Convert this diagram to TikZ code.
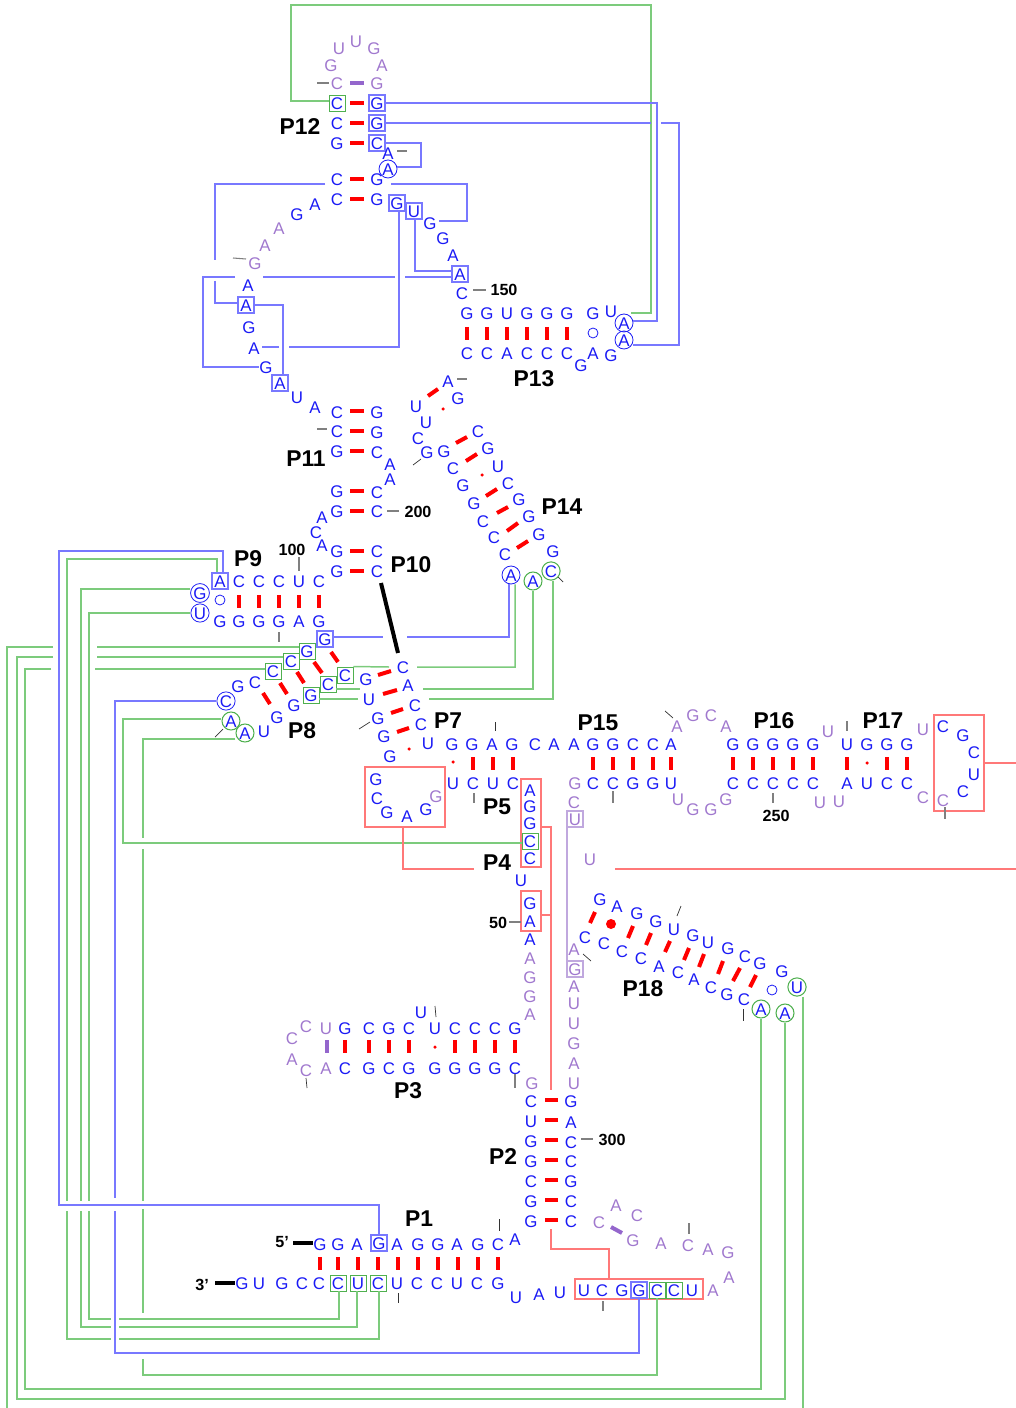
\documentclass[tikz,border=0pt]{standalone}
\usepackage{fontspec}
\setmainfont{Liberation Sans}
\usepackage{xcolor}
\definecolor{ntblue}{HTML}{1A1AF5}
\definecolor{ntpurple}{HTML}{A078CE}
\definecolor{linkblue}{HTML}{7878FF}
\definecolor{linkgreen}{HTML}{7CCB7C}
\definecolor{linkred}{HTML}{FF7878}
\definecolor{linkpurple}{HTML}{C0A8DE}
\definecolor{edgegreen}{HTML}{4FB04F}
\definecolor{pairpurple}{HTML}{9466CC}
\tikzset{
	nt/.style={inner sep=0pt,text=ntblue,text height=7.7pt,text depth=0pt,font=\fontsize{9.6}{10}\selectfont},
	ntp/.style={nt,text=ntpurple},
	bluebox/.style={nt,draw=linkblue,line width=0.6pt,minimum size=0.32cm},
	greenbox/.style={nt,draw=edgegreen,line width=0.55pt,minimum size=0.32cm},
	purplebox/.style={ntp,draw=linkpurple,line width=0.6pt,minimum size=0.32cm},
	bluecirc/.style={nt,circle,draw=ntblue,line width=0.45pt,minimum size=0.36cm},
	greencirc/.style={nt,circle,draw=edgegreen,line width=0.6pt,minimum size=0.36cm},
	opencirc/.style={circle,draw=ntblue,line width=0.45pt,inner sep=0pt,minimum size=0.2cm},
	smalldot/.style={circle,fill=red,inner sep=0pt,minimum size=0.07cm},
	bigdot/.style={circle,fill=red,inner sep=0pt,minimum size=0.2cm},
	redbox/.style={draw=linkred,line width=0.85pt,inner sep=0pt},
	helix/.style={font=\fontsize{13}{15}\selectfont\bfseries,inner sep=0pt},
	num/.style={font=\fontsize{9.2}{10}\selectfont\bfseries,inner sep=0pt},
	pairline/.style={red,line width=0.08cm},
	weakpair/.style={pairpurple,line width=0.08cm},
	tick/.style={gray,line width=0.6pt},
	darktick/.style={black!80,line width=0.4pt},
	bluelink/.style={linkblue,line width=0.85pt},
	greenlink/.style={linkgreen,line width=0.85pt},
	redlink/.style={linkred,line width=0.85pt},
	purplelink/.style={linkpurple,line width=0.85pt},
	endline/.style={black,line width=0.08cm},
}
\begin{document}
\begin{tikzpicture}[x=0.02cm,y=-0.02cm]
\useasboundingbox (0,0) rectangle (1016,1408);
\node[redbox,minimum width=1.6cm,minimum height=1.2cm] (loopbox) at (405,797) {};
\node[redbox,minimum width=0.4cm,minimum height=1.76cm] (stackbox) at (531,823) {};
\node[redbox,minimum width=0.4cm,minimum height=0.8cm] (lowbox) at (531,911) {};
\node[redbox,minimum width=1cm,minimum height=1.92cm] (endbox) at (959,763) {};
\node[redbox,minimum width=2.56cm,minimum height=0.4cm] (sidebox) at (639,1289) {};
\foreach \x/\y/\t in {377/103/G,377/123/G,377/143/C,397/203/G,414/211/U,460/274/A,246/305/A,280/383/A,220/581/A,325/639/G,379/1243/G,639/1290/G} {\node[bluebox] (n\x-\y) at (\x,\y) {\t};}
\foreach \x/\y/\t in {337/103/C,307/651/G,291/661/C,273/671/C,311/695/G,328/684/C,345/675/C,530/841/C,338/1283/C,358/1283/U,378/1283/C,657/1290/C,674/1290/C} {\node[greenbox] (n\x-\y) at (\x,\y) {\t};}
\foreach \x/\y/\t in {575/819/U,575/969/G} {\node[purplebox] (n\x-\y) at (\x,\y) {\t};}
\foreach \x/\y/\t in {388/169/A,624/323/A,624/340/A,511/575/A,200/593/G,200/613/U,226/701/C} {\node[bluecirc] (n\x-\y) at (\x,\y) {\t};}
\foreach \x/\y/\t in {533/581/A,551/571/C,231/721/A,245/733/A,797/987/U,761/1009/A,785/1013/A} {\node[greencirc] (n\x-\y) at (\x,\y) {\t};}
\foreach \x/\y/\t in {337/123/C,337/143/G,388/153/A,337/179/C,377/179/G,337/199/C,377/199/G,430/223/G,443/238/G,453/255/A,462/293/C,315/204/A,297/214/G,248/285/A,249/327/G,254/348/A,266/367/G,297/397/U,315/407/A,611/311/U,581/365/G,593/353/A,611/355/G} {\node[nt] (n\x-\y) at (\x,\y) {\t};}
\foreach \x/\y/\t in {448/381/A,458/398/G,416/406/U,426/422/U,418/438/C,427/452/G,444/451/G,478/431/C,453/468/C,488/448/G,463/485/G,498/466/U,508/483/C,474/503/G,519/499/G,483/521/C,529/516/G,494/537/C,539/534/G,505/554/C,553/551/G} {\node[nt] (n\x-\y) at (\x,\y) {\t};}
\foreach \x/\y/\t in {337/412/C,377/412/G,337/431/C,377/432/G,337/451/G,377/452/C,390/464/A,390/479/A,337/491/G,377/492/C,337/511/G,377/511/C,322/517/A,316/532/C,322/545/A,337/551/G,377/551/C,337/571/G,377/571/C} {\node[nt] (n\x-\y) at (\x,\y) {\t};}
\foreach \x/\y/\t in {255/682/C,238/686/G,264/731/U,277/717/G,294/705/G,403/667/C,366/679/G,408/685/A,369/699/U,415/705/C,378/718/G,421/724/C,384/736/G,390/756/G,428/743/U} {\node[nt] (n\x-\y) at (\x,\y) {\t};}
\foreach \x/\y/\t in {376/779/G,377/798/C,387/812/G,407/816/A,426/809/G,530/790/A,530/806/G,530/823/G,530/858/C,521/880/U,530/903/G,530/921/A,530/939/A} {\node[nt] (n\x-\y) at (\x,\y) {\t};}
\foreach \x/\y/\t in {943/726/C,963/735/G,974/752/C,974/774/U,963/791/C} {\node[nt] (n\x-\y) at (\x,\y) {\t};}
\foreach \x/\y/\t in {600/899/G,617/906/A,637/913/G,656/921/G,674/929/U,693/935/G,708/942/U,728/948/G,745/956/C,760/963/G,782/971/G,585/937/C,604/943/C,622/951/C,641/958/C,659/966/A,678/972/C,694/979/A,711/987/C,727/994/G,744/999/C} {\node[nt] (n\x-\y) at (\x,\y) {\t};}
\foreach \x/\y/\t in {421/1012/U,531/1101/C,571/1101/G,531/1121/U,571/1122/A,531/1141/G,571/1142/C,531/1161/G,571/1161/C,531/1181/C,571/1181/G,531/1201/G,571/1201/C,531/1221/G,571/1221/C,515/1239/A,516/1297/U,539/1294/A,560/1292/U} {\node[nt] (n\x-\y) at (\x,\y) {\t};}
\foreach \x/\t in {467/G,487/G,507/U,527/G,547/G,567/G,593/G} {\node[nt] (n\x-313) at (\x,313) {\t};}
\foreach \x/\t in {467/C,487/C,507/A,527/C,547/C,567/C} {\node[nt] (n\x-353) at (\x,353) {\t};}
\foreach \x/\t in {239/C,259/C,279/C,299/U,319/C} {\node[nt] (n\x-581) at (\x,581) {\t};}
\foreach \x/\t in {220/G,239/G,259/G,279/G,299/A,319/G} {\node[nt] (n\x-621) at (\x,621) {\t};}
\foreach \x/\t in {452/G,472/G,492/A,512/G,535/C,554/A,574/A,593/G,613/G,633/C,653/C,671/A,733/G,753/G,773/G,793/G,813/G,847/U,867/G,887/G,907/G} {\node[nt] (n\x-744) at (\x,744) {\t};}
\foreach \x/\t in {453/U,473/C,493/U,513/C,593/C,613/C,633/G,653/G,671/U,733/C,753/C,773/C,793/C,813/C,847/A,867/U,887/C,907/C} {\node[nt] (n\x-783) at (\x,783) {\t};}
\foreach \x/\t in {345/G,369/C,389/G,409/C,435/U,455/C,475/C,495/C,515/G} {\node[nt] (n\x-1028) at (\x,1028) {\t};}
\foreach \x/\t in {345/C,369/G,389/C,409/G,435/G,455/G,475/G,495/G,515/C} {\node[nt] (n\x-1068) at (\x,1068) {\t};}
\foreach \x/\t in {320/G,338/G,357/A,397/A,418/G,438/G,457/A,478/G,498/C} {\node[nt] (n\x-1244) at (\x,1244) {\t};}
\foreach \x/\t in {242/G,259/U,282/G,302/C,319/C,397/U,417/C,437/C,457/U,477/C,498/G} {\node[nt] (n\x-1283) at (\x,1283) {\t};}
\foreach \x/\t in {584/U,602/C,622/G,692/U} {\node[nt] (n\x-1290) at (\x,1290) {\t};}
\foreach \x/\y/\t in {339/48/U,356/41/U,374/48/G,331/65/G,382/65/A,337/83/C,377/83/G,279/228/A,265/245/A,255/263/G,436/796/G,575/783/G,574/802/C,590/859/U,677/726/A,693/715/G,711/715/C,726/726/A,678/799/U,693/809/G,711/809/G,726/799/G,828/731/U,820/802/U,839/801/U,923/729/U,923/797/C,943/800/C} {\node[ntp] (n\x-\y) at (\x,\y) {\t};}
\foreach \x/\y/\t in {574/949/A,574/986/A,574/1003/U,574/1023/U,574/1043/G,574/1063/A,574/1083/U,530/958/A,530/977/G,530/996/G,530/1014/A,306/1026/C,292/1038/C,292/1059/A,306/1070/C,326/1028/U,326/1068/A,532/1083/G,599/1222/C,616/1205/A,637/1215/C,633/1240/G,661/1243/A,688/1245/C,708/1249/A,728/1252/G,729/1277/A,713/1290/A} {\node[ntp] (n\x-\y) at (\x,\y) {\t};}
\foreach \x/\y in {593/333,220/600,772/990} {\node[opencirc] (o\x-\y) at (\x,\y) {};}
\foreach \x/\y in {443/409,482/475,409/749,453/762,867/763,435/1047} {\node[smalldot] (d\x-\y) at (\x,\y) {};}
\node[bigdot] (d611-924) at (611,924) {};
\foreach \y in {103,123,143,179,199,411,431,451,491,511,551,571} {\draw[pairline] (350,\y) --+ (14,0);}
\draw[weakpair] (350,83) --+ (14,0);
\foreach \x in {467,487,507,527,547,567} {\draw[pairline] (\x,327) --+ (0,13);}
\foreach \x in {239,259,279,299,319} {\draw[pairline] (\x,595) --+ (0,13);}
\foreach \x in {473,493,513,593,613,633,653,671,733,753,773,793,813,847,887,907} {\draw[pairline] (\x,757) --+ (0,13);}
\foreach \x in {345,369,389,409,455,475,495,515} {\draw[pairline] (\x,1040) --+ (0,13);}
\draw[weakpair] (327,1040) --+ (0,13);
\foreach \y in {1100,1120,1140,1160,1180,1200,1220} {\draw[pairline] (545,\y) --+ (13,0);}
\foreach \x in {320,338,358,378,398,418,438,458,478,498} {\draw[pairline] (\x,1257) --+ (0,13);}
\foreach \a/\b/\c/\d in {428/396/438/389,456/443/467/437,466/461/477/454,486/496/497/489,497/513/508/507,507/531/518/523,517/548/528/541,331/652/338/662,314/662/322/673,297/672/304/683,280/683/287/694,263/693/270/704,378/675/391/671,383/694/397/690,391/713/403/709,397/732/409/728,595/912/590/923,633/926/628/938,651/933/646/945,670/941/665/952,689/948/684/960,704/954/699/967,723/961/718/974,740/968/733/981,756/975/750/987} {\draw[pairline] (\a,\b) -- (\c,\d);}
\draw[weakpair] (611,1227) -- (622,1233);
\foreach \a/\b/\c/\d in {317/83/329/83,397/151/407/151,473/290/486/290,233/258/246/259,457/379/467/379,317/429/327/429,387/511/399/511,299/557/299/571,279/632/279/642,474/793/474/803,613/791/613/803,773/793/773/803,847/721/847/731,945/807/945/819,509/922/521/922,515/1074/515/1088,581/1139/593/1139,603/1301/603/1311,689/1223/689/1234} {\draw[tick] (\a,\b) -- (\c,\d);}
\foreach \a/\b/\c/\d in {413/465/421/459,558/577/563/582,215/737/223/729,359/729/370/722,495/722/495/731,665/711/673/718,583/954/591/961,681/906/677/916,743/1009/743/1021,435/1006/436/1017,306/1078/307/1088,499/1219/499/1231,398/1293/398/1303} {\draw[darktick] (\a,\b) -- (\c,\d);}
\draw[line width=0.08cm] (381,583) -- (398,653);
\draw[endline] (293,1243) -- (n320-1244.west |- 293,1243);
\draw[endline] (215,1283) -- (n242-1283.west |- 215,1283);
% long range contacts
\draw[greenlink] (n337-103.west |- 291,101) -- (291,101) -- (291,5) -- (651,5) -- (651,313) -- (n624-323.45 |- 651,313);
\draw[bluelink] (n377-103.east) -- (657,103) -- (657,321) -- (n624-323.east |- 657,321);
\draw[bluelink] (n377-123.east) -- (651,123) (661,123) -- (679,123) -- (679,345) -- (n624-340.east |- 679,345);
\draw[bluelink] (n377-143.east) -- (421,143) -- (421,167) -- (n388-169.east |- 421,167);
\draw[bluelink] ([shift={(14,5)}]n377-179.center) -- (467,184) -- (467,221) -- ([shift={(9,-2)}]n430-223.center);
\draw[bluelink] ([shift={(-12,5)}]n337-179.center) -- (215,184) -- (215,260) (215,281) -- (215,303) -- (n246-305.west |- 215,303);
\draw[bluelink] (n246-305.east) -- (283,305) -- (n280-383.north -| 283,305);
\draw[bluelink] (n460-274.west |- 453,277) -- (405,277) (395,277) -- (263,277) (235,277) -- (203,277) -- (203,367) -- (n266-367.west |- 203,367);
\draw[bluelink] (n397-203.south -| 399,212) -- (399,347) -- (289,347) (279,347) -- ([shift={(8,0)}]n254-348.center |- 279,347);
\draw[bluelink] (n414-211.south -| 415,218) -- (415,271) -- (n460-274.west |- 415,271);
\draw[bluelink] (n325-639.east |- 333,637) -- (383,637) (407,637) -- (509,637) -- (n511-575.south -| 509,583);
\draw[greenlink] (n511-575.south -| 515,583) -- (515,667) -- (417,667) (389,667) -- (n345-675.north east);
\draw[greenlink] (n533-581.south) -- (533,689) -- (423,689) (360,689) -- (n328-684.east |- 360,689);
\draw[greenlink] (n551-571.south -| 553,571) -- (553,699) -- (429,699) (358,699) -- (n311-695.east |- 358,699);
\draw[greenlink] (n307-651.west |- 299,647) -- (97,647) (53,647) -- (7,647) -- (7,1408);
\draw[greenlink] (n291-661.west |- 283,657) -- (97,657) (53,657) -- (17,657) -- (17,1399) -- (785,1399) -- (n785-1013.south);
\draw[greenlink] (n273-671.west |- 265,669) -- (95,669) (51,669) -- (25,669) -- (25,1389) -- (761,1389) -- (n761-1009.south);
\draw[greenlink] (n797-987.south -| 803,987) -- (803,1408);
\draw[bluelink] (n220-581.north -| 223,551) -- (223,551) -- (59,551) -- (59,1205) -- (379,1205) -- (n379-1243.north);
\draw[greenlink] (n220-581.north -| 217,559) -- (217,559) -- (67,559) -- (67,1201) (67,1211) -- (67,1339) -- (111,1339) (119,1339) -- (379,1339) -- (n378-1283.south -| 379,1339);
\draw[greenlink] (n200-593.west |- 190,589) -- (81,589) -- (81,1201) (81,1211) -- (81,1327) -- (111,1327) (119,1327) -- (357,1327) -- (n358-1283.south -| 357,1327);
\draw[greenlink] (n200-613.west) -- (89,613) -- (89,1201) (89,1211) -- (89,1319) -- (111,1319) (119,1319) -- (339,1319) -- (n338-1283.south -| 339,1319);
\draw[bluelink] (n226-701.west) -- (115,701) -- (115,1198) (115,1211) -- (115,1353) -- (639,1353) -- (n639-1290.south);
\draw[greenlink] (n231-721.west |- 222,719) -- (123,719) -- (123,843) -- (n530-841.west |- 523,843);
\draw[greenlink] (n245-733.west |- 237,739) -- (143,739) -- (143,838) (143,849) -- (143,1201) (143,1209) -- (143,1313) (143,1359) -- (143,1375) -- (657,1375) -- (n657-1290.south);
\draw[redlink] (loopbox.south -| 403,827) -- (403,869) -- (474,869) (615,869) -- (1016,869);
\draw[redlink] (stackbox.east |- 541,827) -- (551,827) -- (551,1090);
\draw[redlink] (lowbox.east |- 541,915) -- (551,915);
\draw[redlink] (endbox.east) -- (1016,763);
\draw[redlink] (551,1229) -- (551,1249) -- (609,1249) -- (sidebox.north -| 609,1249);
\draw[purplelink] (n575-819.south -| 567,819) -- (n575-969.north -| 567,969);
\node[helix] (P12) at (300,127) {P12};
\node[helix] (P13) at (534,379) {P13};
\node[helix] (P11) at (306,459) {P11};
\node[helix] (P14) at (562,507) {P14};
\node[helix] (P10) at (411,565) {P10};
\node[helix] (P9) at (248,559) {P9};
\node[helix] (P8) at (302,731) {P8};
\node[helix] (P7) at (448,721) {P7};
\node[helix] (P15) at (598,723) {P15};
\node[helix] (P16) at (774,721) {P16};
\node[helix] (P17) at (883,721) {P17};
\node[helix] (P5) at (497,807) {P5};
\node[helix] (P4) at (497,863) {P4};
\node[helix] (P18) at (643,989) {P18};
\node[helix] (P3) at (408,1091) {P3};
\node[helix] (P2) at (503,1157) {P2};
\node[helix] (P1) at (419,1219) {P1};
\node[num] (n150) at (504,290) {150};
\node[num] (n200) at (418,512) {200};
\node[num] (n100) at (292,550) {100};
\node[num] (n50) at (498,923) {50};
\node[num] (n250) at (776,816) {250};
\node[num] (n300) at (612,1140) {300};
\node[num] (five) at (282,1242) {5’};
\node[num] (three) at (202,1285) {3’};
\end{tikzpicture}
\end{document}
